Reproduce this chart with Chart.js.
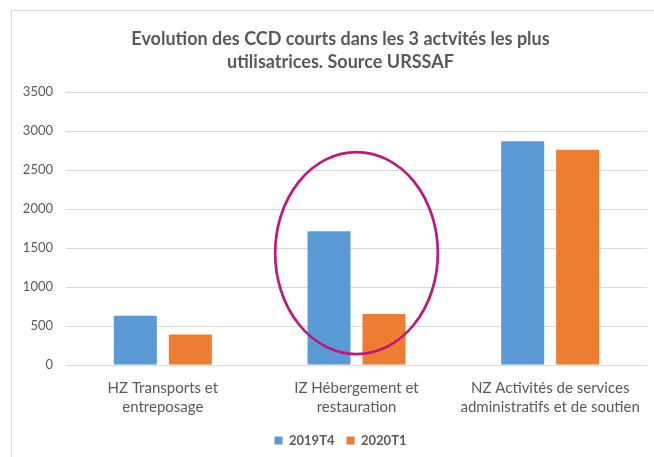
<!DOCTYPE html>
<html>
<head>
<meta charset="utf-8">
<script src="https://cdn.jsdelivr.net/npm/chart.js@4.4.0/dist/chart.umd.min.js"></script>
<style>
  html, body { margin: 0; padding: 0; background: #fff; overflow: hidden; width: 654px; height: 457px; }
  #box { position: absolute; left: 11px; top: 10px; width: 657px; height: 470px; border: 1px solid #d9d9d9; }
</style>
</head>
<body>
<div id="box"><canvas id="chart" width="657" height="446"></canvas></div>
<script>
// data
var categories = [
    ['HZ Transports et', 'entreposage'],
    ['IZ Hébergement et', 'restauration'],
    ['NZ Activités de services', 'administratifs et de soutien']
];
var s2019T4 = [630, 1715, 2870];
var s2020T1 = [390, 655, 2760];
var titleLines = ['Evolution des CCD courts dans les 3 actvités les plus', 'utilisatrices. Source URSSAF'];

// the hand-drawn circle around the IZ bars (category index, value range, half width in categories)
var circleCat = 1;
var circleFrom = 140;
var circleTo = 2730;
var circleHalfWidth = 0.42;

var grey = '#595959';

// ellipse drawn through the scales
var circlePlugin = {
    id: 'circle',
    afterDatasetsDraw: function(chart) {
        var x = chart.scales.x, y = chart.scales.y;
        var cw = x.getPixelForValue(1) - x.getPixelForValue(0);
        var cx = x.getPixelForValue(circleCat);
        var top = y.getPixelForValue(circleTo), bot = y.getPixelForValue(circleFrom);
        var ctx = chart.ctx;
        ctx.save();
        ctx.beginPath();
        ctx.ellipse(cx, (top + bot) / 2, cw * circleHalfWidth, (bot - top) / 2, 0, 0, Math.PI * 2);
        ctx.strokeStyle = '#C0177B';
        ctx.lineWidth = 2.7;
        ctx.stroke();
        ctx.restore();
    }
};

// title and legend are centred on the whole chart box in the original, not the plot
var centrePlugin = {
    id: 'centre',
    afterLayout: function(chart) {
        var w = chart.width;
        chart.titleBlock.left = 0;
        chart.titleBlock.right = w;
        chart.legend.left = 0;
        chart.legend.right = w;
    }
};

var ctx = document.getElementById('chart');
var chart = new Chart(ctx, {
    type: 'bar',
    data: {
        labels: categories,
        datasets: [
            { label: '2019T4', data: s2019T4, backgroundColor: '#5B9BD5' },
            { label: '2020T1', data: s2020T1, backgroundColor: '#ED7D31' }
        ]
    },
    options: {
        responsive: false,
        animation: false,
        categoryPercentage: 0.568,
        barPercentage: 0.782,
        layout: { padding: { left: 0, right: 22, top: 0, bottom: 0 } },
        plugins: {
            title: {
                display: true,
                text: titleLines,
                color: grey,
                font: { family: 'Lato', size: 18, weight: 'bold', lineHeight: 1.25 },
                padding: { top: 17, bottom: 19 }
            },
            legend: {
                position: 'bottom',
                labels: {
                    color: grey,
                    font: { family: 'Lato', size: 13, weight: 'bold' },
                    boxWidth: 8,
                    boxHeight: 8,
                    padding: 12
                }
            },
            tooltip: { enabled: false }
        },
        scales: {
            x: {
                grid: { display: false },
                border: { display: false },
                ticks: {
                    color: grey,
                    font: { family: 'Lato', size: 15, lineHeight: 1.3 },
                    padding: 5,
                    maxRotation: 0
                },
                afterFit: function(scale) { scale.height = 57; }
            },
            y: {
                min: 0,
                max: 3500,
                grid: { color: '#d9d9d9', drawTicks: false },
                border: { display: false },
                ticks: {
                    stepSize: 500,
                    color: grey,
                    font: { family: 'Lato', size: 13 },
                    padding: 13,
                    callback: function(v) { return String(v); }
                },
                afterFit: function(scale) { scale.width = 54; }
            }
        }
    },
    plugins: [circlePlugin, centrePlugin]
});
</script>
</body>
</html>
